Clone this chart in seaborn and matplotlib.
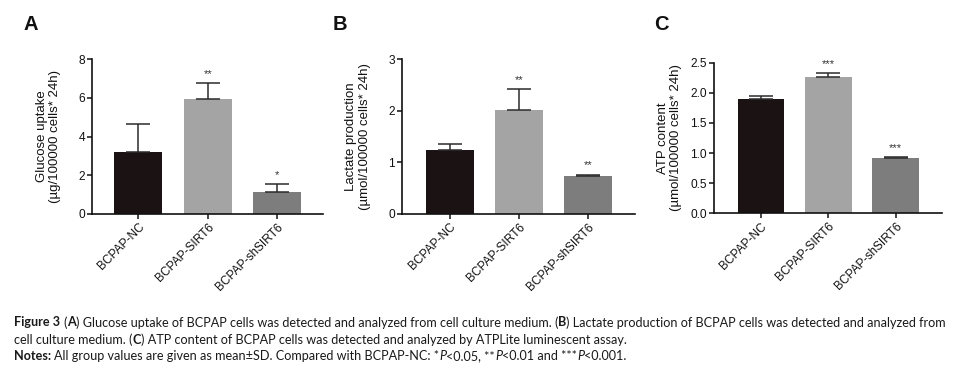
import numpy as np
import pandas as pd
import matplotlib
matplotlib.use("Agg")
import matplotlib.pyplot as plt
import seaborn as sns

# ---------------- data ----------------
categories = ["BCPAP-NC", "BCPAP-SIRT6", "BCPAP-shSIRT6"]

glucose_mean = [3.2, 5.95, 1.13]
glucose_sd = [1.42, 0.8, 0.42]
glucose_stars = ["", "**", "*"]

lactate_mean = [1.23, 2.01, 0.74]
lactate_sd = [0.12, 0.40, 0.02]
lactate_stars = ["", "**", "**"]

atp_mean = [1.90, 2.27, 0.92]
atp_sd = [0.04, 0.06, 0.015]
atp_stars = ["", "***", "***"]

bar_colors = ["#1b1213", "#a4a4a4", "#7d7d7d"]

sns.set_theme(style="ticks")
plt.rcParams["font.family"] = ["Liberation Sans", "DejaVu Sans"]

W, H = 964, 381
fig = plt.figure(figsize=(W / 100, H / 100), dpi=100)


def px_axes(left, right, top, bottom):
    return fig.add_axes([left / W, (H - bottom) / H, (right - left) / W, (bottom - top) / H])


panels = [
    dict(box=(92, 323, 59, 214), mean=glucose_mean, sd=glucose_sd, stars=glucose_stars,
         ylim=(0, 8), ticks=[0, 2, 4, 6, 8], fmt="{:g}", xlim=(-0.666, 2.66),
         ylabel="Glucose uptake\n(µg/100000 cells* 24h)", labx=-0.134, letter="A", letx=31),
    dict(box=(402, 635, 59, 214), mean=lactate_mean, sd=lactate_sd, stars=lactate_stars,
         ylim=(0, 3), ticks=[0, 1, 2, 3], fmt="{:g}", xlim=(-0.69, 2.68),
         ylabel="Lactate production\n(µmol/100000 cells* 24h)", labx=-0.135, letter="B", letx=340),
    dict(box=(714, 942, 62.7, 213.3), mean=atp_mean, sd=atp_sd, stars=atp_stars,
         ylim=(0, 2.5), ticks=[0, 0.5, 1.0, 1.5, 2.0, 2.5], fmt="{:.1f}", xlim=(-0.70, 2.69),
         ylabel="ATP content\n(µmol/100000 cells* 24h)", labx=-0.14, letter="C", letx=661),
]

for p in panels:
    ax = px_axes(*p["box"])
    df = pd.DataFrame({"group": categories, "value": p["mean"]})
    sns.barplot(data=df, x="group", y="value", hue="group", palette=bar_colors,
                width=0.69, ax=ax, legend=False, errorbar=None, saturation=1,
                edgecolor="none", linewidth=0)
    xs = np.arange(len(categories))
    ax.errorbar(xs, p["mean"], yerr=[np.zeros(len(xs)), p["sd"]], fmt="none",
                ecolor="#2b2b2b", elinewidth=1.1, capsize=8.5, capthick=1.1, zorder=3)
    for i, s in enumerate(p["stars"]):
        if s:
            ax.annotate(s, xy=(xs[i], p["mean"][i] + p["sd"][i]), xytext=(0, 3),
                        textcoords="offset points", ha="center", va="bottom",
                        fontsize=8, color="#333333")
    ax.set_ylim(*p["ylim"])
    ax.set_xlim(*p["xlim"])
    ax.set_yticks(p["ticks"])
    ax.set_yticklabels([p["fmt"].format(t) for t in p["ticks"]])
    ax.set_xticks(xs)
    ax.set_xticklabels(categories, rotation=45, ha="right", rotation_mode="anchor")
    ax.tick_params(axis="both", labelsize=8.6, length=3.6, width=1.1, color="#111111",
                   labelcolor="#111111", pad=1.5)
    ax.set_xlabel("")
    ax.set_ylabel(p["ylabel"], fontsize=9.5, color="#111111", linespacing=1.15)
    ax.yaxis.set_label_coords(p["labx"], 0.5)
    sns.despine(ax=ax)
    for sp in ("left", "bottom"):
        ax.spines[sp].set_linewidth(1.2)
        ax.spines[sp].set_color("#111111")
    fig.text(p["letx"] / W, 1 - 25 / H, p["letter"], fontsize=14.5, fontweight="bold",
             ha="center", va="center", color="#111111")

# ---------------- caption ----------------
cap_font = ["Lato", "DejaVu Sans"]
line1 = [("Figure 3", "bold", "normal"), (" (", "normal", "normal"), ("A", "bold", "normal"),
         (") Glucose uptake of BCPAP cells was detected and analyzed from cell culture medium. (", "normal", "normal"),
         ("B", "bold", "normal"),
         (") Lactate production of BCPAP cells was detected and analyzed from", "normal", "normal")]
line2 = [("cell culture medium. (", "normal", "normal"), ("C", "bold", "normal"),
         (") ATP content of BCPAP cells was detected and analyzed by ATPLite luminescent assay.", "normal", "normal")]
line3 = [("Notes:", "bold", "normal"),
         (" All group values are given as mean±SD. Compared with BCPAP-NC: *", "normal", "normal"),
         ("P", "normal", "italic"), ("<0.05, **", "normal", "normal"), ("P", "normal", "italic"),
         ("<0.01 and ***", "normal", "normal"), ("P", "normal", "italic"), ("<0.001.", "normal", "normal")]

renderer = fig.canvas.get_renderer()


def text_width(s, weight, style, size):
    # measure with sentinel chars so that leading/trailing spaces are counted
    t = fig.text(0, 0, "|" + s + "|", fontsize=size, fontweight=weight, fontstyle=style, family=cap_font)
    w = t.get_window_extent(renderer).width
    t.remove()
    t2 = fig.text(0, 0, "||", fontsize=size, fontweight=weight, fontstyle=style, family=cap_font)
    w2 = t2.get_window_extent(renderer).width
    t2.remove()
    return w - w2


def line_width(segs, size):
    return sum(text_width(s, wt, st, size) for s, wt, st in segs)


base = 8.0
target = 952 - 14
size = base * target / line_width(line1, base)


def draw_line(segs, x0, yc, size):
    x = x0
    for s, wt, st in segs:
        lead = len(s) - len(s.lstrip(" "))
        core = s.strip(" ")
        x += text_width(" " * lead, wt, st, size) if lead else 0
        fig.text(x / W, 1 - yc / H, core, fontsize=size, fontweight=wt, fontstyle=st,
                 family=cap_font, ha="left", va="center", color="#1a1a1a")
        x += text_width(core, wt, st, size)
        trail = len(s) - len(s.rstrip(" "))
        x += text_width(" " * trail, wt, st, size) if trail else 0


draw_line(line1, 14, 322.5, size)
draw_line(line2, 14, 339.5, size)
draw_line(line3, 14, 356.5, size)

fig.savefig("out.png", dpi=100)
